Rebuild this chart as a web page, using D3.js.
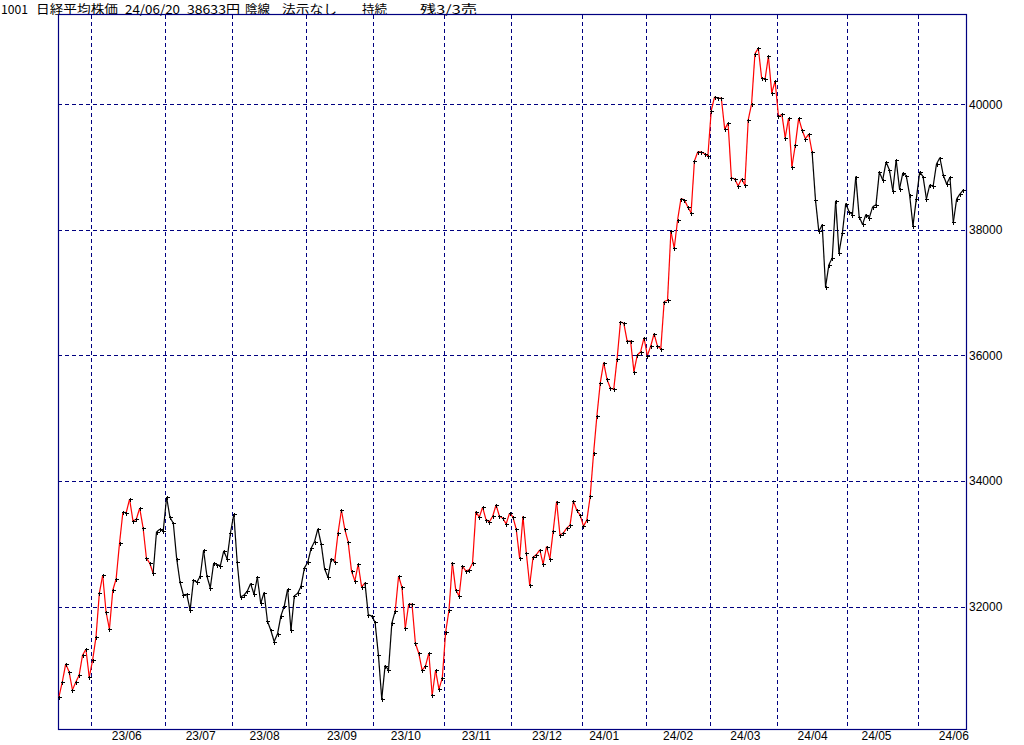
<!DOCTYPE html>
<html>
<head>
<meta charset="utf-8">
<script src="https://cdn.jsdelivr.net/npm/d3@7"></script>
<style>
body { margin: 0; background: #fff; }
</style>
</head>
<body>
<div id="chart"></div>
<script>
"use strict";

// daily closes, 2023/05/18 .. 2024/06/20
var closes = [
  30567,30806,31087,30960,30673,30800,30907,31225,31320,30875,
  31146,31512,32212,32499,31910,31639,32260,32440,33008,33502,
  33497,33709,33364,33390,33566,33258,32770,32690,32531,33189,
  33231,33200,33741,33422,33327,32764,32387,32186,32196,31942,
  32419,32387,32483,32897,32483,32297,32690,32669,32653,32886,
  32759,33173,33470,32706,32154,32180,32244,32366,32196,32467,
  32053,32222,31766,31623,31443,31565,31851,32005,32276,31623,
  32170,32212,32324,32616,32706,32929,33035,33237,32992,32600,
  32467,32764,32711,33173,33534,33231,33030,32563,32409,32674,
  32313,32377,31867,31851,31751,31231,30530,31061,30986,31735,
  31926,32483,32308,31655,32037,32037,31416,31257,30986,31050,
  31257,30588,30986,30684,30859,31591,31942,32700,32265,32170,
  32642,32568,32584,32690,33512,33422,33581,33385,33348,33438,
  33618,33438,33406,33316,33486,33428,33231,32770,33433,32849,
  32340,32785,32828,32902,32674,32955,32759,33210,33672,33141,
  33170,33249,33296,33677,33534,33455,33280,33376,33757,34439,
  35042,35566,35884,35619,35476,35460,35947,36534,36508,36222,
  36233,35741,36005,36058,36280,35995,36148,36344,36148,36106,
  36857,36878,37974,37709,38159,38497,38476,38365,38270,39095,
  39243,39238,39212,39175,39899,40116,40095,40095,39603,39698,
  38825,38810,38698,38810,38714,39751,40005,40804,40889,40413,
  40397,40762,40180,40365,39804,39841,39466,39778,39005,39349,
  39778,39593,39450,39524,39238,38476,37974,38079,37090,37444,
  37556,38460,37635,37947,38418,38286,38243,38847,38206,38085,
  38243,38190,38365,38397,38921,38794,39079,38952,38624,39111,
  38651,38905,38862,38556,38063,38492,38921,38847,38492,38714,
  38693,39048,39148,38873,38730,38836,38116,38492,38571,38635
];

// months on the x axis, trading days shown per month,
// and the day (within the month) that carries the label
var months    = ["23/05","23/06","23/07","23/08","23/09","23/10","23/11","23/12","24/01","24/02","24/03","24/04","24/05","24/06"];
var monthDays = [10,22,20,22,20,21,20,21,19,19,20,21,21,14];
var labelDay  = [null,10,10,9,10,9,9,10,6,9,10,10,8,10];

// stretches of the line drawn in red (from point, to point)
var redRuns = [[0,28],[82,91],[100,224]];

var yTicks = [32000,34000,36000,38000,40000];

var titleParts = ["1001","日経平均株価","24/06/20","38633円","陰線","法示なし","持続","残3/3売"];

var width = 1024;
var height = 745;
var frame = {left: 58, right: 966, top: 15, bottom: 729};
var navy = "#000080";

var svg = d3.select("#chart").append("svg")
  .attr("width", width)
  .attr("height", height)
  .style("display", "block");

var x = d3.scaleLinear()
  .domain([0, closes.length - 1])
  .range([59, 963.4]);

var y = d3.scaleLinear()
  .domain([30050, 41420])
  .range([frame.bottom, frame.top]);

// title line
var titleX = [1, 36, 125, 187, 245, 282, 362, 420];
var titleW = [27, 82, 55, 53, 25, 55, 25, 57];
svg.append("g")
  .selectAll("text")
  .data(titleParts)
  .enter()
  .append("text")
  .attr("x", function(d, i) { return titleX[i]; })
  .attr("y", 13.5)
  .attr("textLength", function(d, i) { return titleW[i]; })
  .attr("lengthAdjust", "spacingAndGlyphs")
  .attr("font-family", "'Noto Sans CJK JP', sans-serif")
  .attr("font-size", "12px")
  .attr("fill", "#000")
  .text(function(d) { return d; });

// month boundaries
var starts = [];
var acc = 0;
monthDays.forEach(function(n) { starts.push(acc); acc += n; });

svg.append("g")
  .selectAll("line")
  .data(starts.slice(1))
  .enter()
  .append("line")
  .attr("x1", function(d) { return Math.round(x(d - 0.5)) + 0.5; })
  .attr("x2", function(d) { return Math.round(x(d - 0.5)) + 0.5; })
  .attr("y1", frame.top)
  .attr("y2", frame.bottom)
  .attr("stroke", navy)
  .attr("stroke-width", 1)
  .attr("stroke-dasharray", "4,3")
  .attr("shape-rendering", "crispEdges");

svg.append("g")
  .selectAll("line")
  .data(yTicks)
  .enter()
  .append("line")
  .attr("x1", frame.left)
  .attr("x2", frame.right)
  .attr("y1", function(d) { return Math.round(y(d)) + 0.5; })
  .attr("y2", function(d) { return Math.round(y(d)) + 0.5; })
  .attr("stroke", navy)
  .attr("stroke-width", 1)
  .attr("stroke-dasharray", "4,3")
  .attr("shape-rendering", "crispEdges");

// right axis labels
var yAxis = svg.append("g")
  .attr("transform", "translate(" + frame.right + ",0)")
  .call(d3.axisRight(y).tickValues(yTicks).tickSize(0).tickPadding(3).tickFormat(d3.format("d")));
yAxis.select(".domain").remove();
yAxis.selectAll("text")
  .attr("font-family", "'Liberation Sans', Arial, sans-serif")
  .attr("font-size", "12px")
  .attr("fill", "#000");

// bottom month labels
var labelIdx = [];
var labelText = {};
months.forEach(function(m, i) {
  if (labelDay[i] === null) return;
  labelIdx.push(starts[i] + labelDay[i]);
  labelText[starts[i] + labelDay[i]] = m;
});
var xAxis = svg.append("g")
  .attr("transform", "translate(0," + frame.bottom + ")")
  .call(d3.axisBottom(x).tickValues(labelIdx).tickSize(0).tickPadding(2)
    .tickFormat(function(d) { return labelText[d]; }));
xAxis.select(".domain").remove();
xAxis.selectAll("text")
  .attr("font-family", "'Liberation Sans', Arial, sans-serif")
  .attr("font-size", "12px")
  .attr("fill", "#000");

// frame
svg.append("rect")
  .attr("x", frame.left + 0.5)
  .attr("y", frame.top - 0.5)
  .attr("width", frame.right - frame.left)
  .attr("height", frame.bottom - frame.top + 1)
  .attr("fill", "none")
  .attr("stroke", navy)
  .attr("stroke-width", 1.2);

// price line, one segment per day
function isRed(i) {
  return redRuns.some(function(r) { return i - 1 >= r[0] && i <= r[1]; });
}
var segs = d3.range(1, closes.length);
svg.append("g")
  .selectAll("line")
  .data(segs)
  .enter()
  .append("line")
  .attr("x1", function(i) { return x(i - 1); })
  .attr("y1", function(i) { return y(closes[i - 1]); })
  .attr("x2", function(i) { return x(i); })
  .attr("y2", function(i) { return y(closes[i]); })
  .attr("stroke", function(i) { return isRed(i) ? "#ff0000" : "#000"; })
  .attr("stroke-width", 1.2);

// "+" markers
svg.append("g")
  .selectAll("path")
  .data(closes)
  .enter()
  .append("path")
  .attr("d", function(d, i) {
    var cx = Math.round(x(i)) + 0.5, cy = Math.round(y(d)) + 0.5;
    return "M" + (cx - 2) + "," + cy + "h4M" + cx + "," + (cy - 2) + "v4";
  })
  .attr("stroke", "#000")
  .attr("stroke-width", 1.3)
  .attr("shape-rendering", "crispEdges");
</script>
</body>
</html>
